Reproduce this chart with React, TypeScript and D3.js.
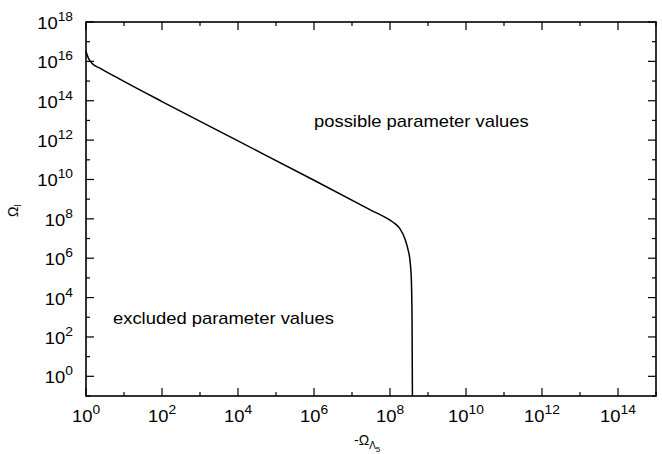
import * as d3 from 'd3'
import type { ReactNode } from 'react'

// curve: -Ω_Λ5 (x) vs Ω_l (y)
const omegaLambda = [
  1, 1.15, 1.41, 2.51, 7.76, 100, 1e4, 1e6, 2.95e7, 1e8, 1.35e8, 1.82e8,
  2.45e8, 2.95e8, 3.39e8, 3.63e8, 3.8e8, 3.89e8,
]
const omegaL = [
  3.2e16, 1.5e16, 8.3e15, 4.2e15, 1.26e15, 9.1e13, 9.1e11, 9.1e9, 2.95e8,
  8.5e7, 5.75e7, 3.16e7, 1e7, 2.95e6, 6.3e5, 1e5, 1e3, 0.1,
]

const xTickExps = [0, 2, 4, 6, 8, 10, 12, 14]
const yTickExps = [0, 2, 4, 6, 8, 10, 12, 14, 16, 18]
const xMinorExps = [1, 3, 5, 7, 9, 11, 13, 15]
const yMinorExps = [-1, 1, 3, 5, 7, 9, 11, 13, 15, 17]

const W = 662
const H = 454
const M = { l: 86, r: 656, t: 22, b: 396 }
const FONT = '"Liberation Sans", Arial, sans-serif'
const SX = 1.15 // reference text is a bit wider than it is tall

function Txt({ x, y, anchor = 'start', size = 16, children }: {
  x: number; y: number; anchor?: string; size?: number; children: ReactNode
}) {
  return (
    <g transform={`translate(${x},${y}) scale(${SX},1)`}>
      <text textAnchor={anchor} fontSize={size}>{children}</text>
    </g>
  )
}

export default function App() {
  const x = d3.scaleLog().domain([1, 1e15]).range([M.l, M.r])
  const y = d3.scaleLog().domain([1e-1, 1e18]).range([M.b, M.t])

  const pts: [number, number][] = omegaLambda.map((v, i) => [x(v), y(omegaL[i])])
  const line = d3.line().curve(d3.curveMonotoneX)(pts) ?? ''

  const major = 8
  const minor = 4

  return (
    <svg
      width={W}
      height={H}
      style={{ position: 'absolute', left: 0, top: 0, background: '#fff' }}
      fontFamily={FONT}
    >
      {/* ticks, all four sides, pointing inward */}
      <g stroke="#000" strokeWidth={1.2}>
        {xTickExps.map(e => (
          <g key={'xM' + e}>
            <line x1={x(10 ** e)} x2={x(10 ** e)} y1={M.b} y2={M.b - major} />
            <line x1={x(10 ** e)} x2={x(10 ** e)} y1={M.t} y2={M.t + major} />
          </g>
        ))}
        {xMinorExps.map(e => (
          <g key={'xm' + e}>
            <line x1={x(10 ** e)} x2={x(10 ** e)} y1={M.b} y2={M.b - minor} />
            <line x1={x(10 ** e)} x2={x(10 ** e)} y1={M.t} y2={M.t + minor} />
          </g>
        ))}
        {yTickExps.map(e => (
          <g key={'yM' + e}>
            <line x1={M.l} x2={M.l + major} y1={y(10 ** e)} y2={y(10 ** e)} />
            <line x1={M.r} x2={M.r - major} y1={y(10 ** e)} y2={y(10 ** e)} />
          </g>
        ))}
        {yMinorExps.map(e => (
          <g key={'ym' + e}>
            <line x1={M.l} x2={M.l + minor} y1={y(10 ** e)} y2={y(10 ** e)} />
            <line x1={M.r} x2={M.r - minor} y1={y(10 ** e)} y2={y(10 ** e)} />
          </g>
        ))}
      </g>

      {/* curve */}
      <path d={line} fill="none" stroke="#000" strokeWidth={1.5} />

      {/* frame */}
      <rect
        x={M.l}
        y={M.t}
        width={M.r - M.l}
        height={M.b - M.t}
        fill="none"
        stroke="#000"
        strokeWidth={1.6}
      />

      {/* x tick labels */}
      {xTickExps.map(e => (
        <Txt key={'xl' + e} x={x(10 ** e)} y={422} anchor="middle">
          10<tspan dy={-8} fontSize={12}>{e}</tspan>
        </Txt>
      ))}

      {/* y tick labels */}
      {yTickExps.map(e => (
        <Txt key={'yl' + e} x={73} y={y(10 ** e) + 7} anchor="end">
          10<tspan dy={-8} fontSize={12}>{e}</tspan>
        </Txt>
      ))}

      {/* axis titles */}
      <text x={354} y={445} fontSize={14}>
        -Ω
        <tspan dy={4} fontSize={10}>Λ</tspan>
        <tspan dy={3} fontSize={8}>5</tspan>
      </text>
      <text transform="translate(18,217) rotate(-90)" fontSize={14}>
        Ω
        <tspan dy={3} fontSize={9}>l</tspan>
      </text>

      {/* region annotations */}
      <Txt x={314} y={127}>possible parameter values</Txt>
      <Txt x={113} y={324}>excluded parameter values</Txt>
    </svg>
  )
}
